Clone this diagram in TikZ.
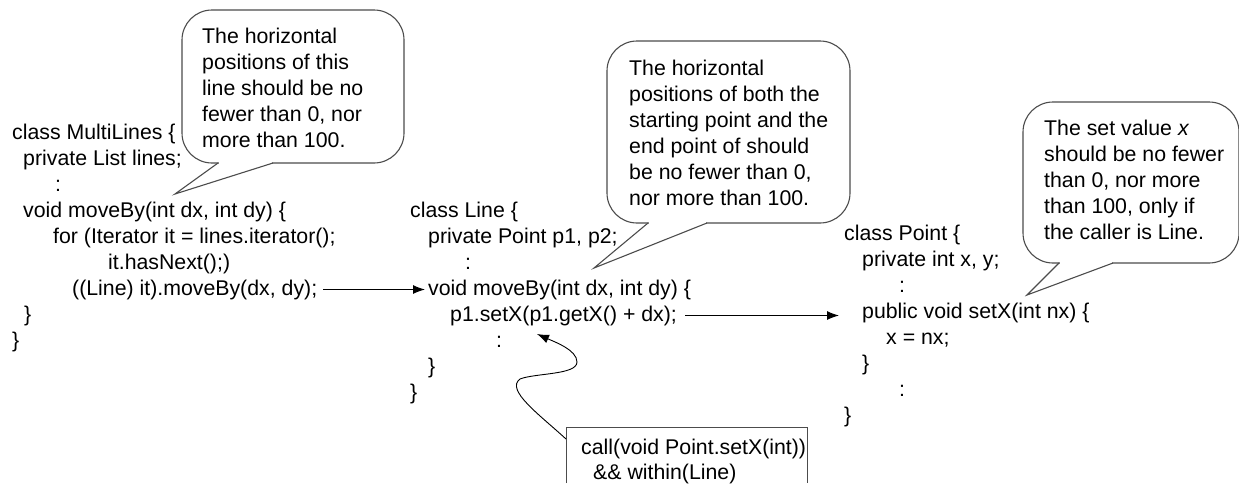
\documentclass[tikz,border=0pt]{standalone}
\usepackage{fontspec}
\setmainfont{Liberation Sans}
\usetikzlibrary{arrows.meta}

\tikzset{
  code/.style={font=\fontsize{21.3}{26}\selectfont, inner sep=0pt, anchor=base west,
               text height=15.5pt, text depth=4.5pt},
  bubble/.style={draw=black!70, line width=1.1pt},
  arr/.style={-{Latex[length=12pt,width=9pt]}, line width=1pt},
}

\begin{document}
\begin{tikzpicture}[x=1pt, y=-1pt]
  \useasboundingbox (0,0) rectangle (1239,483);

  % class MultiLines
  \foreach \x/\t [count=\i] in {12/{class MultiLines \{}, 23/{private List lines;}, 55/{:},
      23/{void moveBy(int dx, int dy) \{}, 53/{for (Iterator it = lines.iterator();},
      108/{it.hasNext();)}, 72/{((Line) it).moveBy(dx, dy);}, 24/{\}}, 12/{\}}}
    \node[code] (ml-\i) at (\x, {139+26*(\i-1)}) {\t};

  % class Line
  \foreach \x/\t [count=\i] in {410/{class Line \{}, 428/{private Point p1, p2;}, 465/{:},
      428/{void moveBy(int dx, int dy) \{}, 450/{p1.setX(p1.getX() + dx);}, 496/{:},
      428/{\}}, 410/{\}}}
    \node[code] (ln-\i) at (\x, {217+26*(\i-1)}) {\t};

  % class Point
  \foreach \x/\t [count=\i] in {844/{class Point \{}, 862/{private int x, y;}, 899/{:},
      862/{public void setX(int nx) \{}, 886/{x = nx;}, 862/{\}}, 899/{:}, 844/{\}}}
    \node[code] (pt-\i) at (\x, {240+26*(\i-1)}) {\t};

  % calls
  \draw[arr, shorten <=6pt, shorten >=3pt] (ml-7.east) -- (ml-7.east -| ln-4.west);
  \draw[arr, shorten <=8pt, shorten >=23pt] (ln-5.east) -- (ln-5.east -| pt-4.west);

  % balloon over MultiLines
  \draw[bubble, rounded corners=30pt] (182,10) rectangle (404,163);
  \fill[white] (219,160) rectangle (272,166);
  \draw[bubble] (218,163) -- (175,194) -- (273,163);
  \foreach \t [count=\i] in {{The horizontal}, {positions of this}, {line should be no},
      {fewer than 0, nor}, {more than 100.}}
    \node[code] (c1-\i) at (202, {43+26*(\i-1)}) {\t};

  % balloon over Line
  \draw[bubble, rounded corners=30pt] (607,41) rectangle (850,223);
  \fill[white] (649,220) rectangle (706,226);
  \draw[bubble] (648,223) -- (594,268) -- (707,223);
  \foreach \t [count=\i] in {{The horizontal}, {positions of both the}, {starting point and the},
      {end point of should}, {be no fewer than 0,}, {nor more than 100.}}
    \node[code] (c2-\i) at (629, {75+26*(\i-1)}) {\t};

  % balloon over Point
  \draw[bubble, rounded corners=30pt] (1023,102) rectangle (1239,263);
  \fill[white] (1060,260) rectangle (1112,266);
  \draw[bubble] (1059,263) -- (1027,295) -- (1113,263);
  \foreach \t [count=\i] in {{The set value \textit{x}}, {should be no fewer}, {than 0, nor more},
      {than 100, only if}, {the caller is Line.}}
    \node[code] (c3-\i) at (1044, {135+26*(\i-1)}) {\t};

  % pointcut box
  \draw[line width=1pt, draw=black!70] (566,483) |- (807,427) -- (807,483);
  \node[code] (pc-1) at (581,454) {call(void Point.setX(int))};
  \node[code] (pc-2) at (593,479) {\&\& within(Line)};
  \coordinate (pcin) at (566,439);
  \coordinate (jp) at (537,334);
  \draw[arr, line width=0.9pt] (pcin) .. controls (540,415) and (505,390) .. (520,379)
    .. controls (535,373) and (577,375) .. (577,362)
    .. controls (577,350) and (555,342) .. (jp);
\end{tikzpicture}
\end{document}
